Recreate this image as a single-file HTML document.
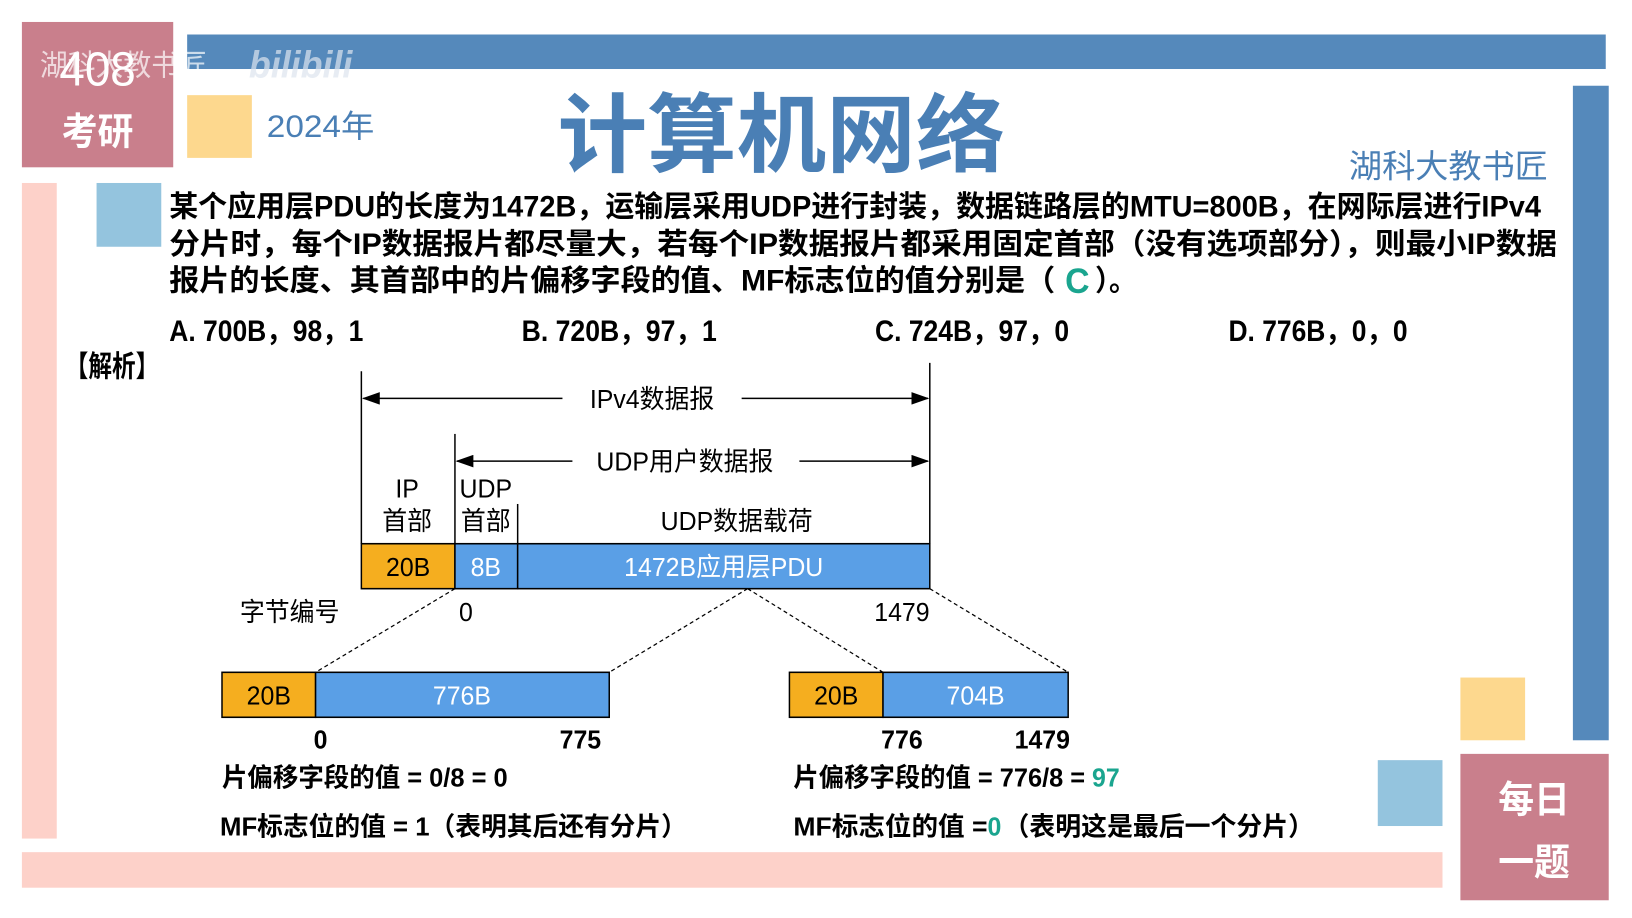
<!DOCTYPE html>
<html><head><meta charset="utf-8"><style>
html,body{margin:0;padding:0;background:#fff;}
svg{display:block;}
text{font-family:"Liberation Sans","Noto Sans CJK SC",sans-serif;}
</style></head><body>
<svg width="1632" height="918" viewBox="0 0 1632 918" xmlns="http://www.w3.org/2000/svg">
<defs><marker id="a" markerWidth="12" markerHeight="8" refX="11" refY="4" orient="auto-start-reverse"><path d="M0,0 L12,4 L0,8 z" fill="#000"/></marker></defs>
<rect width="1632" height="918" fill="#fff"/>
<g transform="scale(0.9955 1.0456)">
<rect x="188" y="33" width="1425" height="33" fill="#5589bb"/>
<rect x="22" y="21" width="152" height="139" fill="#c97f8c"/>
<text x="98" y="82" font-family="Liberation Serif,serif" font-size="46" fill="#fff" text-anchor="middle">408</text>
<text x="98" y="138" font-size="36" font-weight="bold" fill="#fff" text-anchor="middle">考研</text>
<text x="40" y="72" font-size="28" fill="#fff" fill-opacity="0.7">湖科大教书匠</text>
<text x="250" y="74" font-size="36" font-weight="bold" fill="#dde4ee" fill-opacity="0.7" font-style="italic">bilibili</text>
<rect x="188" y="91" width="65" height="60" fill="#fdd88e"/>
<text x="268" y="131" font-size="30" fill="#4a7fb5" textLength="108" lengthAdjust="spacingAndGlyphs">2024年</text>
<text x="560" y="158" font-family="Noto Serif CJK SC,serif" font-size="82" font-weight="bold" fill="#4a7fb5" textLength="450" lengthAdjust="spacingAndGlyphs">计算机网络</text>
<text x="1355" y="170" font-size="31" fill="#4a7fb5" textLength="200" lengthAdjust="spacingAndGlyphs">湖科大教书匠</text>
<rect x="1580" y="82" width="36" height="626" fill="#5589bb"/>
<rect x="22" y="175" width="35" height="627" fill="#fdd1c9"/>
<rect x="97" y="175" width="65" height="61" fill="#94c4de"/>
<rect x="22" y="815" width="1427" height="34" fill="#fdd1c9"/>
<rect x="1467" y="648" width="65" height="60" fill="#fdd88e"/>
<rect x="1384" y="727" width="65" height="63" fill="#94c4de"/>
<rect x="1467" y="721" width="149" height="140" fill="#c97f8c"/>
<text x="1541" y="777" font-size="36" font-weight="bold" fill="#fff" text-anchor="middle">每日</text>
<text x="1541" y="837" font-size="36" font-weight="bold" fill="#fff" text-anchor="middle">一题</text>
<g font-size="28" fill="#000" font-weight="bold">
<text x="170" y="207" textLength="1378" lengthAdjust="spacingAndGlyphs">某个应用层PDU的长度为1472B，运输层采用UDP进行封装，数据链路层的MTU=800B，在网际层进行IPv4</text>
<text x="170" y="243" textLength="1394" lengthAdjust="spacingAndGlyphs">分片时，每个IP数据报片都尽量大，若每个IP数据报片都采用固定首部（没有选项部分），则最小IP数据</text>
<text x="170" y="278" textLength="890" lengthAdjust="spacingAndGlyphs">报片的长度、其首部中的片偏移字段的值、MF标志位的值分别是（</text>
<text x="1070" y="280" font-size="34" fill="#1aa58f">C</text>
<text x="1100" y="278">）。</text>
<text x="170" y="326" textLength="195" lengthAdjust="spacingAndGlyphs">A. 700B，98，1</text>
<text x="524" y="326" textLength="196" lengthAdjust="spacingAndGlyphs">B. 720B，97，1</text>
<text x="879" y="326" textLength="195" lengthAdjust="spacingAndGlyphs">C. 724B，97，0</text>
<text x="1234" y="326" textLength="180" lengthAdjust="spacingAndGlyphs">D. 776B，0，0</text>
<text x="65" y="360" textLength="95" lengthAdjust="spacingAndGlyphs">【解析】</text>
</g>
<g stroke="#000" stroke-width="1.5" fill="none">
<line x1="363" y1="355" x2="363" y2="520"/>
<line x1="934" y1="347" x2="934" y2="520"/>
<line x1="457" y1="415" x2="457" y2="520"/>
<line x1="520" y1="482" x2="520" y2="520"/>
<line x1="365" y1="381" x2="565" y2="381" marker-start="url(#a)"/>
<line x1="745" y1="381" x2="932" y2="381" marker-end="url(#a)"/>
<line x1="459" y1="441" x2="575" y2="441" marker-start="url(#a)"/>
<line x1="803" y1="441" x2="932" y2="441" marker-end="url(#a)"/>
</g>
<g font-size="25" fill="#000" text-anchor="middle">
<text x="655" y="390">IPv4数据报</text>
<text x="688" y="450">UDP用户数据报</text>
<text x="409" y="476">IP</text>
<text x="409" y="507">首部</text>
<text x="488" y="476">UDP</text>
<text x="488" y="507">首部</text>
<text x="740" y="507">UDP数据载荷</text>
</g>
<rect x="363" y="520" width="94" height="43" fill="#f5ae1f" stroke="#000" stroke-width="1.5"/>
<rect x="457" y="520" width="63" height="43" fill="#5a9fe6" stroke="#000" stroke-width="1.5"/>
<rect x="520" y="520" width="414" height="43" fill="#5a9fe6" stroke="#000" stroke-width="1.5"/>
<g font-size="25" text-anchor="middle">
<text x="410" y="551" fill="#000">20B</text>
<text x="488" y="551" fill="#fff">8B</text>
<text x="727" y="551" fill="#fff">1472B应用层PDU</text>
<text x="291" y="594" fill="#000">字节编号</text>
<text x="468" y="594" fill="#000">0</text>
<text x="906" y="594" fill="#000">1479</text>
</g>
<g stroke="#000" stroke-width="1.2" stroke-dasharray="4,3">
<line x1="457" y1="563" x2="317" y2="643"/>
<line x1="751" y1="563" x2="612" y2="643"/>
<line x1="751" y1="563" x2="887" y2="643"/>
<line x1="934" y1="563" x2="1073" y2="643"/>
</g>
<rect x="223" y="643" width="94" height="43" fill="#f5ae1f" stroke="#000" stroke-width="1.5"/>
<rect x="317" y="643" width="295" height="43" fill="#5a9fe6" stroke="#000" stroke-width="1.5"/>
<rect x="793" y="643" width="94" height="43" fill="#f5ae1f" stroke="#000" stroke-width="1.5"/>
<rect x="887" y="643" width="186" height="43" fill="#5a9fe6" stroke="#000" stroke-width="1.5"/>
<g font-size="25" text-anchor="middle">
<text x="270" y="674" fill="#000">20B</text>
<text x="464" y="674" fill="#fff">776B</text>
<text x="840" y="674" fill="#000">20B</text>
<text x="980" y="674" fill="#fff">704B</text>
</g>
<g font-size="25" font-weight="bold" fill="#000">
<text x="322" y="716" text-anchor="middle">0</text>
<text x="583" y="716" text-anchor="middle">775</text>
<text x="906" y="716" text-anchor="middle">776</text>
<text x="1047" y="716" text-anchor="middle">1479</text>
<text x="223" y="752" textLength="287" lengthAdjust="spacingAndGlyphs">片偏移字段的值 = 0/8 = 0</text>
<text x="797" y="752" textLength="293" lengthAdjust="spacingAndGlyphs">片偏移字段的值 = 776/8 = </text>
<text x="1097" y="752" fill="#1aa58f">97</text>
<text x="221" y="799" textLength="469" lengthAdjust="spacingAndGlyphs">MF标志位的值 = 1（表明其后还有分片）</text>
<text x="797" y="799" textLength="195" lengthAdjust="spacingAndGlyphs">MF标志位的值 = </text>
<text x="992" y="799" fill="#1aa58f">0</text>
<text x="1008" y="799" textLength="312" lengthAdjust="spacingAndGlyphs">（表明这是最后一个分片）</text>
</g>
</g>
</svg>
</body></html>
